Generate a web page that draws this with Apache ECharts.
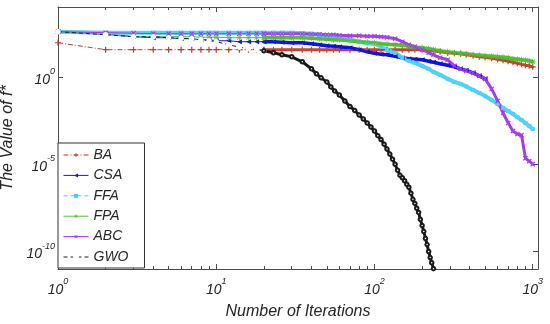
<!DOCTYPE html>
<html><head><meta charset="utf-8">
<script src="https://cdn.jsdelivr.net/npm/echarts@6/dist/echarts.min.js"></script>
<style>html,body{margin:0;padding:0;background:#fff}#c{width:550px;height:324px}</style>
</head><body><div id="c"></div>
<script>
// ---- data ----
const iterations = [1,2,3,4,5,6,7,8,9,10,12,14,16,18,20,23,26,30,35,40,45,50,55,60,70,80,90,100,110,120,135,150,165,180,200,220,236,260,290,320,350,380,420,460,500,550,600,650,700,750,800,850,900,950,1000];

const seriesNames = ['BA','CSA','FFA','FPA','ABC','GWO'];

const valuesBA = [90,36,36,36,36,36,36,36,36,36,36,36,36,36,36,36,36,36,36,36,36,36,36,36,36,36,36,36,36,36,36,36,36,36,36,
  33,31,27,24,22.4,21,18.4,16.1,14.1,13.2,11.6,10.1,8.9,7.8,6.8,6.0,5.2,4.6,4.3,3.76];

const valuesCSA = [386,296,199,174,174,153,153,134,134,117,117,103,103,103,103,103,96,90,90,79,69,60,57,53,46,36,27,22.4,19.6,18.4,15.1,12.4,10.8,10.1,9.5,7.8,6.8,
  5.6,4.6,3.76,2.88,2.36,1.70,1.14,0.77,null,null,null,null,null,null,null,null,null,null];

const valuesFFA = [386,338,338,338,338,338,338,338,338,338,338,338,338,338,338,338,338,338,316,296,259,227,199,174,134,103,84,79,53,36,24,12.4,8.3,6.4,4.29,2.88,1.94,
  1.30,0.77,0.516,0.396,0.284,0.179,0.120,0.081,0.0477,0.0281,0.0165,0.0111,0.0075,0.0050,0.00338,0.00227,0.00153,0.00103];

const valuesFPA = [386,259,199,199,199,199,199,186,186,186,174,174,174,174,174,174,174,174,174,163,153,143,134,134,117,103,96,90,79,74,69,65,57,50,46,41,36,
  31,27,24,22.4,21,18.4,17.2,16.1,15.1,14.1,13.2,12.4,10.8,10.1,9.5,8.9,8.3,7.3];

const valuesABC = [386,338,316,296,296,296,296,296,296,296,296,296,296,296,296,296,296,296,296,277,277,259,259,243,227,227,213,213,199,186,153,103,69,53,36,24,18.4,
  12.4,9.5,4.29,2.88,2.21,1.70,1.14,0.77,0.204,0.0418,0.0085,0.00227,0.00079,0.00053,0.00046,0.000022,0.0000149,0.00001];

const iterationsGWO = [1,2,3,4,5,6,7,8,9,10,12,14,16,18,20,23,26,30,35,40,43,46,50,53,56,60,65,70,75,80,85,90,95,100,105,110,115,120,125,130,135,140,145,150,155,160,165,170,175,180,185,190,195,200,205,210,215,220,225,230,236];
const valuesGWO = [386,259,199,199,174,163,153,134,117,103,69,50,41,36,31,24,18.4,14.1,7.3,
  2.88,1.49,0.877,0.516,0.266,0.157,0.0924,
  0.0418,0.0202,0.0119,0.00655,0.00386,0.00227,0.00134,7.9e-4,4.3e-4,2.6e-4,1.41e-4,7.3e-5,3.8e-5,1.94e-5,1.0e-5,4.5e-6,2.3e-6,1.67e-6,1.13e-6,7.1e-7,4.8e-7,2.2e-7,9.7e-8,5.7e-8,3.0e-8,1.74e-8,6.9e-9,3.1e-9,1.41e-9,5.6e-10,2.5e-10,1.0e-10,4.5e-11,2.3e-11,1.05e-11];

const xMajorTicks = [1,10,100,1000];
const xMinorTicks = [2,3,4,5,6,7,8,9,20,30,40,50,60,70,80,90,200,300,400,500,600,700,800,900];
const yMajorTicks = [1e-10,1e-5,1];

// ---- chart ----
const FONT = '"Liberation Sans", Arial, Helvetica, sans-serif';
const AX = '#4d4d4d';
const TXT = '#262626';
function pairs(its, vals){ const out=[]; vals.forEach((v,i)=>{ if(v!=null) out.push([its[i], v]); }); return out; }
const rich = {
  b:{fontSize:14, fontStyle:'italic', fontFamily:FONT, color:TXT, lineHeight:20, verticalAlign:'bottom'},
  s:{fontSize:9, fontStyle:'italic', fontFamily:FONT, color:TXT, lineHeight:20, verticalAlign:'top'}
};
function powLabel(v, step){
  const e = Math.log10(v), r = Math.round(e);
  if (Math.abs(e-r) > 1e-6 || r % step !== 0) return '';
  return '{b|10}{s|' + r + '}';
}
const PLUS = 'path://M4,0H6V4H10V6H6V10H4V6H0V4H4Z';
const STAR = 'path://M4.4,0H5.6V3.6L8.1,1.1L8.9,1.9L6.4,4.4H10V5.6H6.4L8.9,8.1L8.1,8.9L5.6,6.4V10H4.4V6.4L1.9,8.9L1.1,8.1L3.6,5.6H0V4.4H3.6L1.1,1.9L1.9,1.1L4.4,3.6Z';

// split: iteration from which the dense markers merge into a solid band
const styles = {
  BA:{color:'#b8412c', band:'#c4452f', symbol:PLUS, size:6, rot:0, type:[5,2,1,2], w:3, split:20},
  CSA:{color:'#1414e6', band:'#1010e8', symbol:'triangle', size:5, rot:90, type:'solid', w:3.5, split:20},
  FFA:{color:'#3fcdf3', band:'#4fd3f6', symbol:'rect', size:4, rot:0, type:[4,3], w:4, split:1},
  FPA:{color:'#55c035', band:'#4fc030', symbol:STAR, size:6, rot:0, type:'solid', w:3.5, split:20},
  ABC:{color:'#a832f0', band:'#a63cf0', symbol:PLUS, size:6, rot:45, type:'solid', w:3, split:20},
  GWO:{color:'#222222', band:'#1a1a1a', symbol:'emptyCircle', size:3.5, rot:0, type:[4,3], w:3, split:20}
};
const dataBy = {
  BA:pairs(iterations, valuesBA), CSA:pairs(iterations, valuesCSA), FFA:pairs(iterations, valuesFFA),
  FPA:pairs(iterations, valuesFPA), ABC:pairs(iterations, valuesABC), GWO:pairs(iterationsGWO, valuesGWO)
};

const series = [];
seriesNames.forEach(n => {
  const st = styles[n], d = dataBy[n];
  series.push({
    name:n, type:'line', data:d.filter(p => p[0] <= st.split),
    symbol:st.symbol, symbolSize:st.size, symbolRotate:st.rot, showSymbol:true,
    lineStyle:{color:st.color, width:1, type:st.type},
    itemStyle:{color: n==='GWO' ? '#fff' : st.color, borderColor:st.color, borderWidth: n==='GWO'?1:0},
    emphasis:{disabled:true}, animation:false
  });
  series.push({
    name:n + ' band', type:'line', data:d.filter(p => p[0] >= st.split),
    symbol:st.symbol, symbolSize:st.size, symbolRotate:st.rot, showSymbol:true,
    lineStyle:{color:st.band, width:st.w, type:'solid', join:'round', cap:'round'},
    itemStyle:{color:st.band, borderColor:st.band, borderWidth:0},
    emphasis:{disabled:true}, animation:false
  });
});

const xBase = {type:'log', logBase:10, min:1, max:1080, interval:1, splitLine:{show:false}};
const chart = echarts.init(document.getElementById('c'), null, {renderer:'canvas'});
chart.setOption({
  animation:false,
  backgroundColor:'#fff',
  grid:{left:58, right:12, top:7, bottom:55, containLabel:false, outerBoundsMode:'none', show:false},
  legend:{
    data:seriesNames, orient:'vertical', left:58, top:143,
    itemWidth:25, itemHeight:5, itemGap:6.4, padding:[5,16,4,5],
    backgroundColor:'#fff', borderColor:'#333', borderWidth:1,
    lineStyle:{width:1},
    textStyle:{fontSize:14, fontStyle:'italic', fontFamily:FONT, color:TXT},
    selectedMode:false
  },
  xAxis:[
    Object.assign({}, xBase, {position:'bottom',
      axisLine:{show:true, lineStyle:{color:AX}},
      axisTick:{show:true, inside:true, length:5, customValues:xMajorTicks, lineStyle:{color:AX}},
      axisLabel:{show:true, margin:8, customValues:xMajorTicks, formatter:v=>powLabel(v,1), rich:rich},
      name:'Number of Iterations', nameLocation:'middle', nameGap:35,
      nameTextStyle:{fontSize:16, fontStyle:'italic', fontFamily:FONT, color:TXT}}),
    Object.assign({}, xBase, {position:'bottom',
      axisLine:{show:false}, axisLabel:{show:false},
      axisTick:{show:true, inside:true, length:3, customValues:xMinorTicks, lineStyle:{color:AX}}}),
    Object.assign({}, xBase, {position:'top',
      axisLine:{show:true, lineStyle:{color:AX}}, axisLabel:{show:false},
      axisTick:{show:true, inside:true, length:5, customValues:xMajorTicks, lineStyle:{color:AX}}}),
    Object.assign({}, xBase, {position:'top',
      axisLine:{show:false}, axisLabel:{show:false},
      axisTick:{show:true, inside:true, length:3, customValues:xMinorTicks, lineStyle:{color:AX}}})
  ],
  yAxis:[
    {type:'log', logBase:10, min:1e-11, max:1e4, position:'left', splitLine:{show:false},
      axisLine:{show:true, lineStyle:{color:AX}},
      axisTick:{show:true, inside:true, length:5, customValues:yMajorTicks, lineStyle:{color:AX}},
      axisLabel:{show:true, margin:3, customValues:yMajorTicks, formatter:v=>powLabel(v,5), rich:rich},
      name:'The Value of f*', nameLocation:'middle', nameGap:28,
      nameTextStyle:{fontSize:16, fontStyle:'italic', fontFamily:FONT, color:TXT}},
    {type:'log', logBase:10, min:1e-11, max:1e4, position:'right', splitLine:{show:false},
      axisLine:{show:true, lineStyle:{color:AX}},
      axisTick:{show:true, inside:true, length:5, customValues:yMajorTicks, lineStyle:{color:AX}},
      axisLabel:{show:false}}
  ],
  series:series
});
</script></body></html>
